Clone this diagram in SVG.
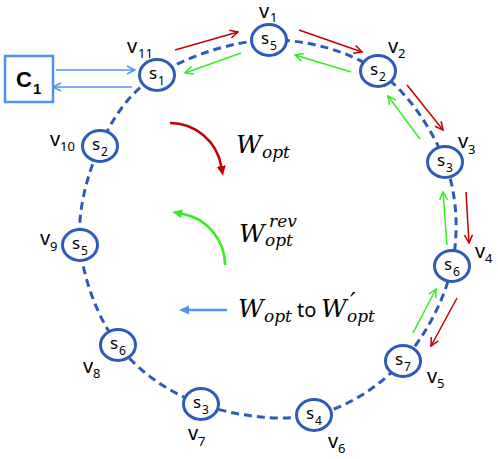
<svg xmlns="http://www.w3.org/2000/svg" width="498" height="459" viewBox="0 0 498 459">
<style>
.ring{fill:none;stroke:#2C5CB8;stroke-width:3;stroke-dasharray:8 5}
.nd{fill:#fff;stroke:#2C5CB8;stroke-width:3}
.s{font-family:"Noto Sans","Liberation Sans",sans-serif;font-size:17px;fill:#000}
.ss{font-size:12px}
.v{font-family:"Noto Sans","Liberation Sans",sans-serif;font-size:20px;fill:#000}
.vs{font-size:13px}
.red{fill:none;stroke:#C00000;stroke-width:1.5}
.grn{fill:none;stroke:#33EE22;stroke-width:1.5}
.blu{fill:none;stroke:#4C94F0;stroke-width:1.5}
.m{font-family:"DejaVu Serif","Liberation Serif",serif;font-style:italic;font-size:25px;fill:#000}
.ms{font-size:17px}
.up{font-family:"Noto Sans","Liberation Sans",sans-serif;font-size:20px;fill:#000}
</style>
<defs>
<marker id="hr" viewBox="0 0 10 10" refX="9" refY="5" markerWidth="10" markerHeight="10" orient="auto" markerUnits="userSpaceOnUse"><path d="M1,1 L9,5 L1,9" fill="none" stroke="#C00000" stroke-width="1.5"/></marker>
<marker id="hg" viewBox="0 0 10 10" refX="9" refY="5" markerWidth="10" markerHeight="10" orient="auto" markerUnits="userSpaceOnUse"><path d="M1,1 L9,5 L1,9" fill="none" stroke="#33EE22" stroke-width="1.5"/></marker>
<marker id="hb" viewBox="0 0 10 10" refX="9" refY="5" markerWidth="10" markerHeight="10" orient="auto" markerUnits="userSpaceOnUse"><path d="M1,1 L9,5 L1,9" fill="none" stroke="#4C94F0" stroke-width="1.5"/></marker>
<marker id="fr" viewBox="0 0 10 10" refX="0" refY="5" markerWidth="10" markerHeight="10" orient="auto" markerUnits="userSpaceOnUse"><path d="M0,0.5 L10,5 L0,9.5 Z" fill="#C00000"/></marker>
<marker id="fg" viewBox="0 0 10 10" refX="0" refY="5" markerWidth="10" markerHeight="10" orient="auto" markerUnits="userSpaceOnUse"><path d="M0,0.5 L10,5 L0,9.5 Z" fill="#33EE22"/></marker>
<marker id="fb" viewBox="0 0 10 10" refX="0" refY="5" markerWidth="10" markerHeight="10" orient="auto" markerUnits="userSpaceOnUse"><path d="M0,0.5 L10,5 L0,9.5 Z" fill="#4C94F0"/></marker>
</defs>

<g id="connectors">
<path class="ring" d="M269,40 C305.8,39.3 348.7,50.7 378,71 C407.3,91.3 432.7,129.5 445,162 C457.3,194.5 459,233 452,266 C445,299 426,335.2 403,361 C380,386 347.7,407.7 314,415 C280.3,422.3 233.7,415.7 201,404 C168.3,392.3 138.2,371.5 118,345 C97.8,318.5 83,278.2 80,245 C77,211.8 87.2,174.3 100,146 C112.8,117.7 128.8,92.7 157,75 C185.2,57.3 232.2,40.7 269,40 Z"/>
<line class="red" x1="175" y1="50" x2="238" y2="32" marker-end="url(#hr)"/>
<line class="red" x1="299" y1="30" x2="362" y2="52" marker-end="url(#hr)"/>
<line class="red" x1="407" y1="85" x2="443" y2="130" marker-end="url(#hr)"/>
<line class="red" x1="466" y1="192" x2="469" y2="243" marker-end="url(#hr)"/>
<line class="red" x1="457" y1="298" x2="431" y2="346" marker-end="url(#hr)"/>
<line class="grn" x1="413" y1="333" x2="436" y2="289" marker-end="url(#hg)"/>
<line class="grn" x1="447" y1="245" x2="443" y2="192" marker-end="url(#hg)"/>
<line class="grn" x1="420" y1="139" x2="388" y2="96" marker-end="url(#hg)"/>
<line class="grn" x1="351" y1="72" x2="295" y2="55" marker-end="url(#hg)"/>
<line class="grn" x1="241" y1="53" x2="185" y2="73" marker-end="url(#hg)"/>
<line class="blu" x1="56" y1="70" x2="135" y2="70" marker-end="url(#hb)"/>
<line class="blu" x1="132" y1="87" x2="53" y2="87" marker-end="url(#hb)"/>
</g>

<g id="legend">
<path d="M170,123 A52,52 0 0 1 221.2,166" fill="none" stroke="#C00000" stroke-width="2.5" marker-end="url(#fr)"/>
<path d="M225,265 A52,52 0 0 0 182,213.8" fill="none" stroke="#33EE22" stroke-width="2.5" marker-end="url(#fg)"/>
<line x1="227" y1="310" x2="189" y2="310" stroke="#4C94F0" stroke-width="2.5" marker-end="url(#fb)"/>
<text class="m" x="236" y="153">W</text><text class="m ms" x="262" y="158">opt</text>
<text class="m" x="239" y="242">W</text><text class="m ms" x="269" y="227">rev</text><text class="m ms" x="265" y="246">opt</text>
<text class="m" x="238" y="317">W</text><text class="m ms" x="264" y="322">opt</text>
<text class="up" x="297" y="317">to</text>
<text class="m" x="321" y="317">W</text><text class="m" x="350" y="310" font-size="20">′</text><text class="m ms" x="347" y="322">opt</text>
</g>

<g id="C1">
<rect x="5" y="56" width="48" height="46" fill="#fff" stroke="#4C94F0" stroke-width="2.5"/>
<text x="16" y="87" font-family="Liberation Sans, sans-serif" font-weight="bold" font-size="22">C</text>
<text x="33" y="94" font-family="Liberation Sans, sans-serif" font-weight="bold" font-size="15">1</text>
</g>

<g id="v1"><ellipse class="nd" cx="269" cy="40" rx="17.5" ry="15.5"/><text class="s" x="261" y="44">s</text><text class="s ss" x="270" y="50">5</text><text class="v" x="259" y="18">v</text><text class="v vs" x="270" y="22">1</text></g>
<g id="v2"><ellipse class="nd" cx="378" cy="71" rx="17.5" ry="15.5"/><text class="s" x="370" y="75">s</text><text class="s ss" x="379" y="81">2</text><text class="v" x="388" y="53">v</text><text class="v vs" x="398" y="58">2</text></g>
<g id="v3"><ellipse class="nd" cx="445" cy="162" rx="17.5" ry="15.5"/><text class="s" x="437" y="166">s</text><text class="s ss" x="446" y="172">3</text><text class="v" x="458" y="148">v</text><text class="v vs" x="468" y="154">3</text></g>
<g id="v4"><ellipse class="nd" cx="452" cy="266" rx="17.5" ry="15.5"/><text class="s" x="444" y="270">s</text><text class="s ss" x="453" y="276">6</text><text class="v" x="475" y="258">v</text><text class="v vs" x="485" y="263">4</text></g>
<g id="v5"><ellipse class="nd" cx="403" cy="361" rx="17.5" ry="15.5"/><text class="s" x="395" y="365">s</text><text class="s ss" x="404" y="371">7</text><text class="v" x="427" y="383">v</text><text class="v vs" x="437" y="388">5</text></g>
<g id="v6"><ellipse class="nd" cx="314" cy="415" rx="17.5" ry="15.5"/><text class="s" x="306" y="419">s</text><text class="s ss" x="315" y="425">4</text><text class="v" x="328" y="448">v</text><text class="v vs" x="338" y="453">6</text></g>
<g id="v7"><ellipse class="nd" cx="201" cy="404" rx="17.5" ry="15.5"/><text class="s" x="193" y="408">s</text><text class="s ss" x="202" y="414">3</text><text class="v" x="188" y="440">v</text><text class="v vs" x="198" y="446">7</text></g>
<g id="v8"><ellipse class="nd" cx="118" cy="345" rx="17.5" ry="15.5"/><text class="s" x="110" y="349">s</text><text class="s ss" x="119" y="355">6</text><text class="v" x="83" y="373">v</text><text class="v vs" x="93" y="378">8</text></g>
<g id="v9"><ellipse class="nd" cx="80" cy="245" rx="17.5" ry="15.5"/><text class="s" x="72" y="249">s</text><text class="s ss" x="81" y="255">5</text><text class="v" x="40" y="245">v</text><text class="v vs" x="50" y="251">9</text></g>
<g id="v10"><ellipse class="nd" cx="100" cy="146" rx="17.5" ry="15.5"/><text class="s" x="92" y="150">s</text><text class="s ss" x="101" y="156">2</text><text class="v" x="50" y="146">v</text><text class="v vs" x="60" y="151">10</text></g>
<g id="v11"><ellipse class="nd" cx="157" cy="75" rx="17.5" ry="15.5"/><text class="s" x="149" y="79">s</text><text class="s ss" x="158" y="85">1</text><text class="v" x="127" y="53">v</text><text class="v vs" x="138" y="58">11</text></g>
</svg>
